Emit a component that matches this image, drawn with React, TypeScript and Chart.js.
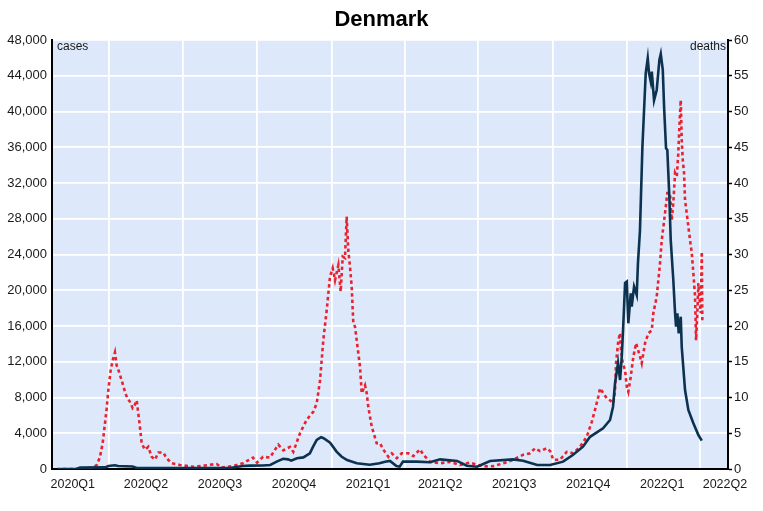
import React, { useEffect, useRef } from "react";
import { Chart, registerables } from "chart.js";

Chart.register(...registerables);

// x values are days since 2020-01-01
const quarterLabels = ["2020Q1", "2020Q2", "2020Q3", "2020Q4", "2021Q1", "2021Q2", "2021Q3", "2021Q4", "2022Q1", "2022Q2"];
const quarterLabelDays = [46, 136.5, 228, 319.5, 411, 500, 591.5, 683, 774.5, 852];
const quarterStartDays = [91, 182, 274, 366, 456, 547, 639, 731, 821];

const caseDays = [
  27, 50, 55, 86, 90, 98, 102, 120, 125, 180, 240, 256, 265, 281, 290, 298, 306, 312, 316, 323,
  331, 339, 343, 347.5, 352.8, 356, 364, 372, 378, 385, 397, 413, 425, 432, 438, 446, 450, 454, 471, 487.5,
  500, 521, 533, 545.6, 561.7, 590, 602.5, 620, 636, 652, 664, 676.6, 685.3, 701.4, 710, 713.7, 716.2, 719.9, 722.4, 724.5,
  726.1, 728.6, 730.7, 732.6, 735.6, 736.8, 739.7, 743, 744.5, 747, 750, 754.1, 756.6, 758.2, 760.3, 761.6, 764.4, 767.7, 771,
  772.7, 775.2, 776.8, 779.2, 780.8, 783.3, 785, 788.2, 790.4, 791.6, 793.2, 794.9, 797.4, 798.6, 802.7, 806.8, 813, 819.2, 823.4,
];
const caseValues = [
  0, 0, 150, 180, 330, 420, 340, 280, 120, 100, 120, 330, 380, 400, 450, 820, 1150, 1080, 930, 1200,
  1300, 1750, 2500, 3250, 3550, 3450, 2950, 1950, 1400, 1000, 640, 480, 640, 820, 900, 330, 260, 820, 820, 750,
  1080, 900, 370, 260, 900, 1080, 930, 450, 450, 820, 1570, 2500, 3600, 4550, 5480, 6970, 9620, 11860, 9960, 12570,
  15550, 20810, 20960, 16300, 19660, 18160, 20400, 19470, 23000, 26700, 36000, 44280, 45960, 44280, 43350, 44460, 41240, 42410, 45770,
  46440, 44650, 40540, 35880, 35700, 30470, 25630, 21150, 17420, 15920, 17420, 15180, 17040, 13680, 8840, 6600, 5110, 3800, 3170,
];

const deathDays = [
  34, 55, 71, 76, 79.6, 82.9, 85.8, 87.9, 89.9, 92.8, 95.3, 98.1, 100.2, 103.1, 106.4, 110.5, 113.3, 116.7, 120, 121.6,
  125, 126.9, 129, 131.1, 135.2, 139.3, 143.5, 147.6, 151.7, 157.9, 162, 168.2, 178.5, 194.9, 209.4, 223.9, 230, 244, 256.4, 268.7,
  273.7, 281.1, 289.7, 300, 306.2, 314.5, 318.5, 326.8, 335.1, 343.3, 347.5, 351.6, 355.6, 359.8, 363.9, 367.2, 370.1, 374.2, 377.1, 379.6,
  382.4, 384.5, 386.5, 388.6, 390.7, 392.7, 394.8, 396.9, 398.9, 401, 403.1, 407.2, 409.3, 411.2, 415.5, 421.6, 425.7, 429.8, 436, 440.2,
  446.4, 452.5, 460.7, 466.9, 475.2, 479.2, 487.5, 499.9, 512.2, 524.6, 537, 549.3, 557.6, 565.8, 578.1, 590.5, 602.8, 611.1, 617.3, 623.5,
  631.8, 635.9, 639.9, 648.2, 656.5, 664.6, 672.9, 681.2, 687.4, 691.5, 695.5, 697.7, 701.7, 705.9, 710, 714.1, 716.2, 717.4, 720.3, 722.4,
  723.6, 725.7, 728.6, 730.7, 732.6, 735.6, 738.8, 742.2, 747.1, 749.2, 753.3, 757.4, 761.6, 763.5, 767.7, 771.8, 773.9, 778, 780.8, 784.1,
  786.2, 788.2, 790.4, 792.5, 794.4, 795.7, 797.4, 798.6, 799.9, 801.5, 802.7, 804.8, 806.8, 808.9, 811, 813, 815.1, 816.3, 817.9, 819.2,
  820.4, 822.1, 823.4, 824.1,
];
const deathValues = [
  0, 0, 0.2, 0.6, 1.7, 3.6, 6.4, 8.5, 11, 13.8, 15.2, 16.3, 14.5, 13.6, 12.4, 10.8, 9.9, 9.4, 8.5, 8.7,
  9.6, 7.8, 5.9, 3.6, 2.7, 3.1, 1.7, 1.3, 2.3, 2.3, 1.5, 0.8, 0.56, 0.3, 0.5, 0.7, 0.2, 0.4, 0.8, 1.6,
  0.9, 1.7, 1.6, 3.4, 2.6, 3.1, 2.4, 5, 6.9, 8, 9.2, 12.4, 18, 22.2, 26.9, 28.1, 26.4, 28.5, 24.8, 29.7,
  29.5, 35.3, 30.6, 28.3, 25.5, 20.4, 19.9, 18, 16.2, 14.3, 10.6, 11.7, 10.6, 8.7, 5.9, 3.6, 3.6, 2.7, 1.7, 2.2,
  1.5, 2.2, 2.2, 1.8, 2.75, 2, 1, 0.8, 1, 0.56, 0.9, 0.47, 0.37, 0.4, 0.8, 1.3, 2, 2.2, 2.9, 2.5,
  2.9, 2.5, 1.3, 1.3, 2.4, 2.2, 3.1, 4.5, 6.6, 8.3, 10.1, 11.3, 10.6, 9.9, 9.6, 9.2, 11, 14.8, 18, 19,
  16.6, 14.8, 13.8, 11.5, 10.8, 12.9, 15.7, 17.6, 15.7, 14.8, 17.6, 19, 19.4, 21.8, 24.1, 28.8, 32, 35.8, 38.6, 38.6,
  34.8, 37.2, 41.4, 40.9, 44.2, 47.9, 51.6, 46, 43.2, 41.4, 37.6, 35.8, 33.9, 32, 30.2, 27.4, 24.1, 18, 21.8, 26,
  24.1, 21.8, 30.4, 20.8,
];

const FONT = "'Liberation Sans', Arial, Helvetica, sans-serif";
const NAVY = "#0c3250";
const RED = "#e8222e";
const PLOT_BG = "#dde9fb";
const X_MIN = 20.3;
const X_MAX = 855.8;

const plotBackground = {
  id: "plotBackground",
  beforeDraw(chart: any) {
    const { ctx, chartArea } = chart;
    ctx.save();
    ctx.fillStyle = PLOT_BG;
    ctx.fillRect(chartArea.left, chartArea.top, chartArea.right - chartArea.left, chartArea.bottom - chartArea.top);
    ctx.restore();
  },
};

const axisNames = {
  id: "axisNames",
  afterDatasetsDraw(chart: any) {
    const { ctx, chartArea } = chart;
    ctx.save();
    ctx.font = `12px ${FONT}`;
    ctx.fillStyle = "#1a1a1a";
    ctx.textBaseline = "alphabetic";
    ctx.textAlign = "left";
    ctx.fillText("cases", chartArea.left + 5, chartArea.top + 10);
    ctx.textAlign = "right";
    ctx.fillText("deaths", chartArea.right - 2, chartArea.top + 10);
    ctx.restore();
  },
};

export default function App() {
  const ref = useRef<HTMLCanvasElement | null>(null);

  useEffect(() => {
    if (!ref.current) return;
    const chart = new Chart(ref.current, {
      type: "line",
      data: {
        datasets: [
          {
            label: "cases",
            data: caseDays.map((d, i) => ({ x: d, y: caseValues[i] })),
            yAxisID: "y",
            xAxisID: "x",
            borderColor: NAVY,
            borderWidth: 2.6,
            pointRadius: 0,
            tension: 0,
            fill: false,
          },
          {
            label: "deaths",
            data: deathDays.map((d, i) => ({ x: d, y: deathValues[i] })),
            yAxisID: "y1",
            xAxisID: "x",
            borderColor: RED,
            borderWidth: 2.6,
            borderDash: [3.4, 3],
            pointRadius: 0,
            tension: 0,
            fill: false,
          },
        ],
      },
      options: {
        responsive: false,
        animation: false,
        events: [],
        layout: { padding: 0 },
        plugins: {
          legend: { display: false },
          tooltip: { enabled: false },
          title: {
            display: true,
            text: "Denmark",
            color: "#000",
            font: { family: FONT, size: 22, weight: "bold" },
            padding: { top: 7, bottom: 6.6 },
          },
        },
        scales: {
          x: {
            type: "linear",
            position: "bottom",
            min: X_MIN,
            max: X_MAX,
            afterBuildTicks: (axis: any) => {
              axis.ticks = quarterLabelDays.map((v) => ({ value: v }));
            },
            afterFit: (axis: any) => {
              axis.height = 42;
            },
            ticks: {
              autoSkip: false,
              maxRotation: 0,
              padding: 8,
              color: "#1a1a1a",
              font: { family: FONT, size: 12.5 },
              callback: (v: any) => {
                const i = quarterLabelDays.indexOf(Number(v));
                return i >= 0 ? quarterLabels[i] : "";
              },
            },
            grid: { color: "rgba(0,0,0,0)", drawTicks: false },
            border: { display: true, color: "#000", width: 2 },
          },
          xg: {
            type: "linear",
            position: "top",
            min: X_MIN,
            max: X_MAX,
            afterBuildTicks: (axis: any) => {
              axis.ticks = quarterStartDays.map((v) => ({ value: v }));
            },
            afterFit: (axis: any) => {
              axis.height = 0;
            },
            ticks: { display: false },
            grid: { color: "#ffffff", lineWidth: 1.8, drawTicks: false },
            border: { display: false },
          },
          y: {
            position: "left",
            min: 0,
            max: 48000,
            afterFit: (axis: any) => {
              axis.width = 52;
            },
            ticks: {
              stepSize: 4000,
              padding: 5,
              color: "#1a1a1a",
              font: { family: FONT, size: 13 },
              callback: (v: any) => Number(v).toLocaleString("en-US"),
            },
            grid: { color: "#ffffff", lineWidth: 1.8, drawTicks: false },
            border: { display: true, color: "#000", width: 2 },
          },
          y1: {
            position: "right",
            min: 0,
            max: 60,
            afterFit: (axis: any) => {
              axis.width = 35;
            },
            ticks: {
              stepSize: 5,
              padding: 2,
              color: "#1a1a1a",
              font: { family: FONT, size: 13 },
            },
            grid: { drawOnChartArea: false, drawTicks: true, tickLength: 4, tickColor: "#000", tickWidth: 1.5, color: "#000" },
            border: { display: true, color: "#000", width: 2 },
          },
        },
      } as any,
      plugins: [plotBackground, axisNames],
    });
    return () => chart.destroy();
  }, []);

  return (
    <div style={{ position: "fixed", left: 0, top: 0, width: 763, height: 511, background: "#fff" }}>
      <canvas ref={ref} width={763} height={511} style={{ display: "block", width: 763, height: 511 }} />
    </div>
  );
}
